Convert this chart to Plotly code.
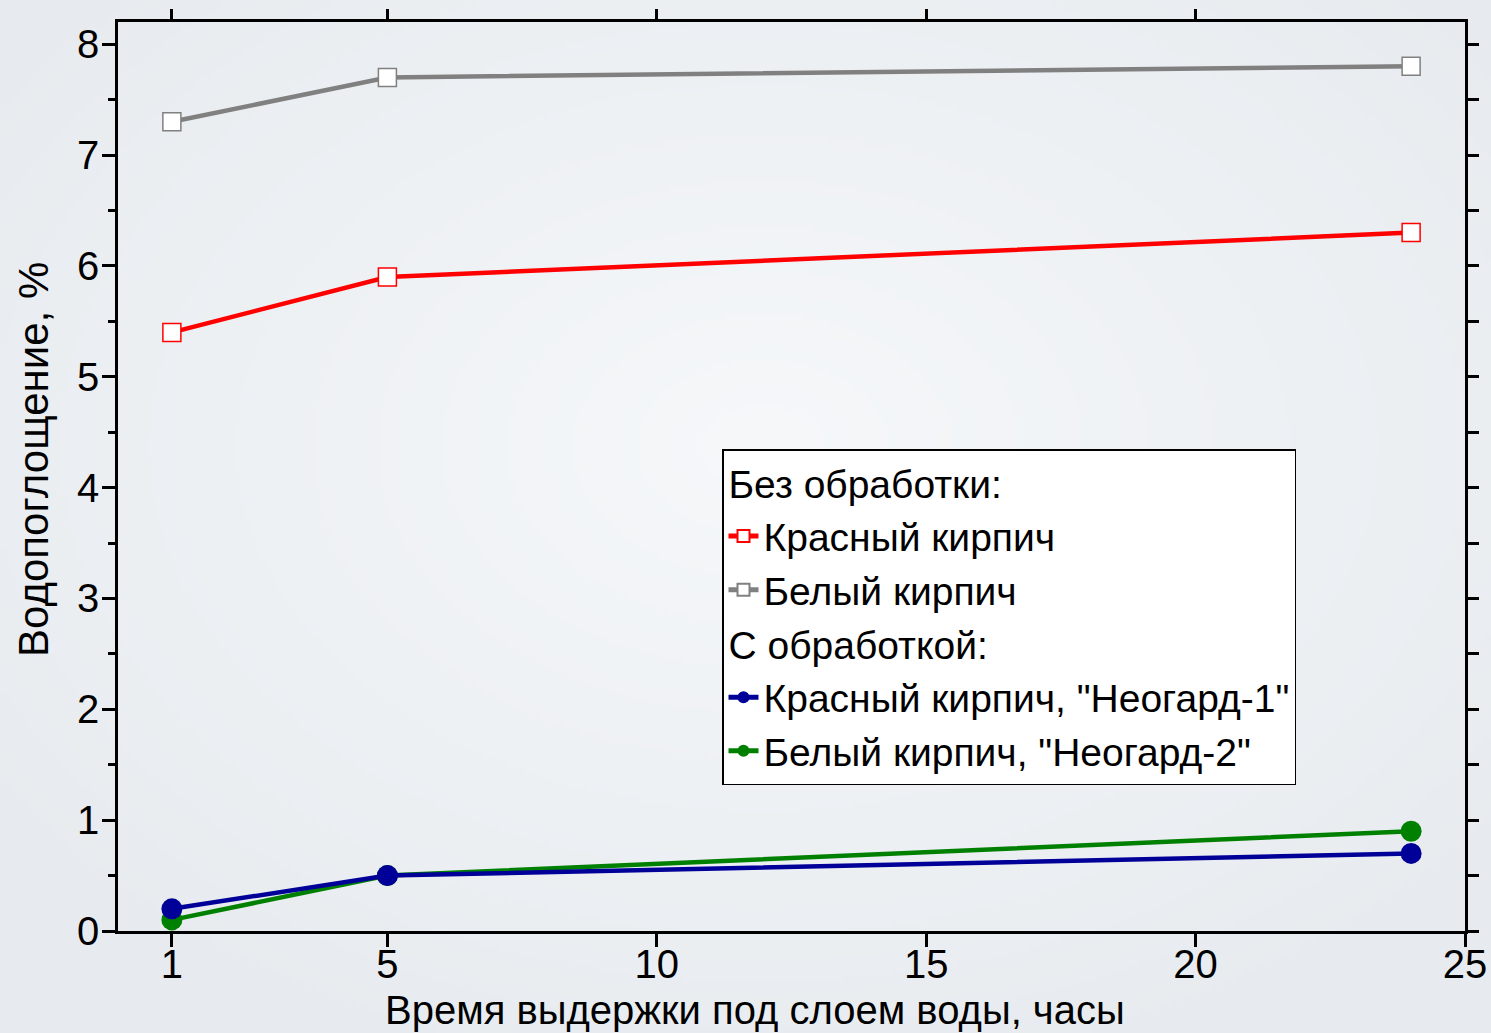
import base64, struct, zlib
import numpy as np
import plotly.graph_objects as go

# ---- data ----
hours = [1, 5, 24]
red_untreated = [5.4, 5.9, 6.3]
white_untreated = [7.3, 7.7, 7.8]
red_neogard1 = [0.2, 0.5, 0.7]
white_neogard2 = [0.1, 0.5, 0.9]

x_ticks = [1, 5, 10, 15, 20, 25]
x_top_ticks = [1, 5, 10, 15, 20]

x_title = "Время выдержки под слоем воды, часы"
y_title = "Водопоглощение, %"

FONT = "Liberation Sans, Arial, sans-serif"
W, H = 1491, 1033
ML, MR, MT, MB = 118, 26, 22, 102
PW, PH = W - ML - MR, H - MT - MB


def px_x(px):
    return (px - ML) / PW


def px_y(py):
    return 1 - (py - MT) / PH


# ---- radial gradient background as PNG ----
def make_png(arr):
    h, w, _ = arr.shape
    raw = b"".join(b"\x00" + arr[i].tobytes() for i in range(h))

    def chunk(t, d):
        c = struct.pack(">I", len(d)) + t + d
        return c + struct.pack(">I", zlib.crc32(t + d) & 0xFFFFFFFF)

    return (b"\x89PNG\r\n\x1a\n" + chunk(b"IHDR", struct.pack(">IIBBBBB", w, h, 8, 2, 0, 0, 0))
            + chunk(b"IDAT", zlib.compress(raw, 9)) + chunk(b"IEND", b""))


gw, gh = 300, 208
yy, xx = np.mgrid[0:gh, 0:gw]
cx, cy = 0.51 * gw, 0.43 * gh
d = np.sqrt(((xx - cx) / gw) ** 2 + ((yy - cy) / gh) ** 2) / 0.65
d = np.clip(d, 0, 1)
c0 = np.array([246, 248, 250], float)
c1 = np.array([231, 235, 239], float)
img = (c0[None, None, :] * (1 - d[..., None]) + c1[None, None, :] * d[..., None]).astype(np.uint8)
bg_uri = "data:image/png;base64," + base64.b64encode(make_png(img)).decode()

fig = go.Figure()

fig.add_trace(go.Scatter(
    x=hours, y=red_untreated, mode="lines+markers", name="Красный кирпич",
    line=dict(color="#ff0000", width=4.5),
    marker=dict(symbol="square", size=18, color="white", line=dict(color="#ff0000", width=1.5)),
    legendgroup="g1", legendgrouptitle=dict(text="Без обработки:"), legendrank=1,
))
fig.add_trace(go.Scatter(
    x=hours, y=white_untreated, mode="lines+markers", name="Белый кирпич",
    line=dict(color="#808080", width=4.5),
    marker=dict(symbol="square", size=18, color="white", line=dict(color="#808080", width=1.5)),
    legendgroup="g1", legendrank=2,
))
fig.add_trace(go.Scatter(
    x=hours, y=white_neogard2, mode="lines+markers", name='Белый кирпич, "Неогард-2"',
    line=dict(color="#008000", width=4.5),
    marker=dict(symbol="circle", size=21, color="#008000"),
    legendgroup="g2", legendrank=4,
))
fig.add_trace(go.Scatter(
    x=hours, y=red_neogard1, mode="lines+markers", name='Красный кирпич, "Неогард-1"',
    line=dict(color="#000099", width=4.5),
    marker=dict(symbol="circle", size=21, color="#000099"),
    legendgroup="g2", legendgrouptitle=dict(text="С обработкой:"), legendrank=3,
))

fig.update_layout(
    width=W, height=H,
    margin=dict(l=ML, r=MR, t=MT, b=MB, pad=0, autoexpand=False),
    paper_bgcolor="#eef1f4",
    plot_bgcolor="rgba(0,0,0,0)",
    font=dict(family=FONT, size=40, color="black"),
    images=[dict(source=bg_uri, xref="paper", yref="paper",
                 x=-ML / PW, y=1 + MT / PH, sizex=W / PW, sizey=H / PH,
                 sizing="stretch", xanchor="left", yanchor="top", layer="below")],
    xaxis=dict(
        range=[0, 25], tickvals=x_ticks, ticktext=[str(v) for v in x_ticks],
        ticks="outside", ticklen=13, tickwidth=2.5, tickcolor="black",
        showline=True, linewidth=2.5, linecolor="black", mirror=True,
        showgrid=False, zeroline=False, automargin=False,
        tickfont=dict(family=FONT, size=40), ticklabelstandoff=-17,
    ),
    xaxis2=dict(
        range=[0, 25], overlaying="x", side="top", anchor="y",
        tickvals=x_top_ticks, showticklabels=False,
        ticks="outside", ticklen=12, tickwidth=2.5, tickcolor="black",
        showline=False, showgrid=False, zeroline=False, automargin=False,
    ),
    yaxis=dict(
        range=[0, 8.2], dtick=1, tick0=0,
        ticks="outside", ticklen=13, tickwidth=2.5, tickcolor="black",
        minor=dict(dtick=0.5, ticks="outside", ticklen=7, tickwidth=2.5, tickcolor="black"),
        showline=True, linewidth=2.5, linecolor="black", mirror=True,
        showgrid=False, zeroline=False, automargin=False,
        tickfont=dict(family=FONT, size=40), ticklabelstandoff=-5,
    ),
    yaxis2=dict(
        range=[0, 8.2], overlaying="y", side="right", anchor="x",
        dtick=0.5, tick0=0, showticklabels=False,
        ticks="outside", ticklen=13, tickwidth=2.5, tickcolor="black",
        showline=False, showgrid=False, zeroline=False, automargin=False,
    ),
    legend=dict(
        x=px_x(722), y=px_y(449), xanchor="left", yanchor="top",
        bgcolor="white", bordercolor="black", borderwidth=1.5,
        font=dict(family=FONT, size=39, color="black"),
        grouptitlefont=dict(family=FONT, size=39, color="black"),
        tracegroupgap=0, itemsizing="constant",
    ),
    annotations=[
        dict(text=x_title, xref="paper", yref="paper", x=px_x(755), y=px_y(1010),
             xanchor="center", yanchor="middle", showarrow=False,
             font=dict(family=FONT, size=40, color="black")),
        dict(text=y_title, xref="paper", yref="paper", x=px_x(33), y=px_y(460),
             xanchor="center", yanchor="middle", showarrow=False, textangle=-90,
             font=dict(family=FONT, size=42, color="black")),
    ],
    showlegend=True,
)

# invisible helper trace so the secondary (tick-only) axes are drawn
fig.add_trace(go.Scatter(x=[None], y=[None], xaxis="x2", yaxis="y2", showlegend=False, hoverinfo="skip"))

fig.write_html("out.html", config={"displayModeBar": False},
               post_script="document.body.style.margin='0px';")
